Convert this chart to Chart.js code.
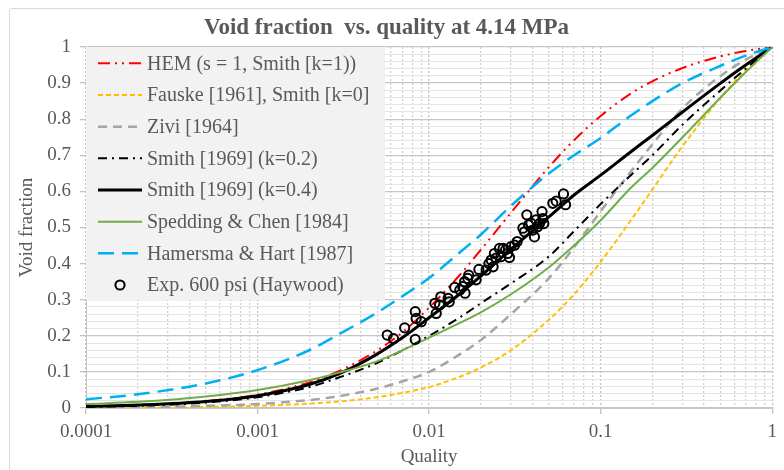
<!DOCTYPE html>
<html>
<head>
<meta charset="utf-8">
<script src="https://cdn.jsdelivr.net/npm/chart.js@4.4.1/dist/chart.umd.min.js"></script>
<style>
  html, body { margin: 0; padding: 0; background: #fff; }
  #wrap { position: relative; width: 784px; height: 470px; overflow: hidden; }
  #frame { position: absolute; left: 9px; top: 8px; width: 800px; height: 480px;
           border: 1px solid #d9d9d9; border-radius: 3px; box-sizing: border-box; }
  canvas { position: absolute; left: 0; top: 0; }
</style>
</head>
<body>
<div id="wrap">
  <div id="frame"></div>
  <canvas id="voidChart" width="784" height="470"></canvas>
</div>
<script>
const quality = [0.0001, 0.0002, 0.0005, 0.001, 0.002, 0.003, 0.005, 0.007, 0.01, 0.015,
  0.02, 0.03, 0.05, 0.07, 0.1, 0.15, 0.2, 0.3, 0.5, 0.7, 1];

const hem      = [0.004, 0.008, 0.019, 0.037, 0.071, 0.103, 0.16, 0.21, 0.278, 0.367,
  0.438, 0.541, 0.668, 0.742, 0.809, 0.871, 0.905, 0.942, 0.974, 0.989, 1];
const fauske   = [0.0006, 0.0012, 0.003, 0.006, 0.012, 0.018, 0.03, 0.042, 0.058, 0.086,
  0.112, 0.16, 0.245, 0.315, 0.405, 0.52, 0.605, 0.725, 0.86, 0.935, 1];
const zivi     = [0.001, 0.002, 0.006, 0.011, 0.022, 0.033, 0.054, 0.074, 0.1, 0.148,
  0.188, 0.26, 0.36, 0.445, 0.545, 0.655, 0.73, 0.83, 0.92, 0.965, 1];
const smith02  = [0.003, 0.006, 0.015, 0.03, 0.058, 0.085, 0.125, 0.16, 0.2, 0.25,
  0.29, 0.345, 0.42, 0.49, 0.565, 0.645, 0.7, 0.785, 0.88, 0.94, 1];
const smith04  = [0.004, 0.008, 0.018, 0.034, 0.065, 0.095, 0.15, 0.195, 0.25, 0.315,
  0.365, 0.44, 0.53, 0.59, 0.645, 0.71, 0.755, 0.82, 0.9, 0.95, 1];
const spedding = [0.011, 0.017, 0.032, 0.05, 0.077, 0.098, 0.13, 0.16, 0.195, 0.235,
  0.265, 0.315, 0.39, 0.45, 0.52, 0.61, 0.665, 0.75, 0.86, 0.93, 1];
const hamersma = [0.024, 0.038, 0.068, 0.105, 0.16, 0.205, 0.265, 0.31, 0.36, 0.43,
  0.48, 0.56, 0.65, 0.7, 0.748, 0.81, 0.85, 0.9, 0.948, 0.976, 1];

// Haywood measurements, 600 psi
const expQuality = [0.0057, 0.0062, 0.0072, 0.0083, 0.0084, 0.0083, 0.009, 0.011, 0.0108, 0.0117,
  0.0115, 0.0129, 0.0131, 0.0141, 0.0151, 0.0157, 0.0161, 0.0162, 0.0168, 0.017,
  0.0188, 0.0195, 0.0215, 0.0223, 0.023, 0.0236, 0.024, 0.0245, 0.0257, 0.0262,
  0.027, 0.0279, 0.0287, 0.0294, 0.03, 0.0315, 0.0326, 0.0352, 0.036, 0.0371,
  0.038, 0.0392, 0.0402, 0.0411, 0.042, 0.0429, 0.044, 0.0455, 0.046, 0.0466,
  0.0526, 0.055, 0.0607, 0.0624];
const expVoid = [0.202, 0.192, 0.222, 0.267, 0.248, 0.19, 0.239, 0.262, 0.29, 0.308,
  0.285, 0.304, 0.294, 0.334, 0.327, 0.336, 0.35, 0.318, 0.359, 0.368,
  0.355, 0.384, 0.382, 0.4, 0.41, 0.391, 0.428, 0.415, 0.442, 0.419,
  0.442, 0.438, 0.428, 0.417, 0.447, 0.451, 0.461, 0.498, 0.488, 0.535,
  0.507, 0.512, 0.493, 0.474, 0.521, 0.502, 0.511, 0.544, 0.525, 0.511,
  0.567, 0.573, 0.593, 0.563];

const xTickLabels = ["0.0001", "0.001", "0.01", "0.1", "1"];
const yTickLabels = ["0", "0.1", "0.2", "0.3", "0.4", "0.5", "0.6", "0.7", "0.8", "0.9", "1"];

const serif = "'Liberation Serif', 'Times New Roman', serif";
const textGray = "#595959";

function curve(label, values, color, width, dash, order) {
  return {
    label: label,
    data: quality.map((q, i) => ({ x: q, y: values[i] })),
    showLine: true,
    borderColor: color,
    backgroundColor: color,
    borderWidth: width,
    borderDash: dash,
    pointRadius: 0,
    cubicInterpolationMode: "monotone",
    order: order
  };
}

// grid positions on the log axis: 1..9 per decade
const xGrid = [];
xTickLabels.forEach((t, d) => {
  const base = Number(t);
  if (d === xTickLabels.length - 1) { xGrid.push(base); return; }
  for (let m = 1; m <= 9; m++) xGrid.push(+(m * base).toPrecision(3));
});
const yGrid = [];
for (let i = 0; i <= 50; i++) yGrid.push(+(i * 0.02).toFixed(2));

const legendBox = {
  id: "legendBox",
  afterDatasetsDraw(chart) {
    const { ctx, chartArea } = chart;
    ctx.save();
    ctx.fillStyle = "#f2f2f2";
    ctx.fillRect(chartArea.left, chartArea.top, 299, 253);
    chart.data.datasets.forEach((ds, i) => {
      const y = chartArea.top + 16.3 + i * 31.67;
      const x0 = chartArea.left + 12;
      if (ds.showLine) {
        ctx.beginPath();
        ctx.setLineDash(ds.borderDash || []);
        ctx.lineWidth = ds.borderWidth;
        ctx.strokeStyle = ds.borderColor;
        ctx.moveTo(x0, y);
        ctx.lineTo(x0 + 44, y);
        ctx.stroke();
      } else {
        ctx.beginPath();
        ctx.setLineDash([]);
        ctx.lineWidth = ds.pointBorderWidth;
        ctx.strokeStyle = ds.borderColor;
        ctx.arc(x0 + 22, y, ds.pointRadius, 0, Math.PI * 2);
        ctx.stroke();
      }
      ctx.fillStyle = textGray;
      ctx.font = "20px " + serif;
      ctx.textBaseline = "middle";
      ctx.fillText(ds.label, x0 + 49, y + 1);
    });
    ctx.restore();
  }
};

new Chart(document.getElementById("voidChart"), {
  type: "scatter",
  data: {
    datasets: [
      curve("HEM (s = 1, Smith [k=1))", hem, "#ff0000", 2, [12, 5, 2, 5, 2, 5], 8),
      curve("Fauske [1961], Smith [k=0]", fauske, "#ffc000", 2, [5, 3], 7),
      curve("Zivi [1964]", zivi, "#a5a5a5", 2.5, [9, 6], 6),
      curve("Smith [1969] (k=0.2)", smith02, "#000000", 2, [9, 5, 2, 5], 5),
      curve("Smith [1969] (k=0.4)", smith04, "#000000", 3, [], 4),
      curve("Spedding & Chen [1984]", spedding, "#70ad47", 2, [], 3),
      curve("Hamersma & Hart [1987]", hamersma, "#00b0f0", 2.5, [16, 8], 2),
      {
        label: "Exp. 600 psi (Haywood)",
        data: expQuality.map((q, i) => ({ x: q, y: expVoid[i] })),
        showLine: false,
        borderColor: "#000000",
        backgroundColor: "rgba(0,0,0,0)",
        pointRadius: 4.6,
        pointBorderWidth: 2,
        order: 1
      }
    ]
  },
  options: {
    responsive: false,
    animation: false,
    layout: { padding: { left: 0, right: 11, top: 0, bottom: 0 } },
    plugins: {
      legend: { display: false },
      tooltip: { enabled: false },
      title: {
        display: true,
        text: "Void fraction  vs. quality at 4.14 MPa",
        color: textGray,
        font: { family: serif, size: 23, weight: "bold" },
        padding: { top: 14, bottom: 5.4 }
      }
    },
    scales: {
      x: {
        type: "logarithmic",
        min: 0.0001,
        max: 1,
        afterBuildTicks: (scale) => { scale.ticks = xGrid.map(v => ({ value: v })); },
        afterFit: (scale) => { scale.height = 62; },
        ticks: {
          autoSkip: false,
          maxRotation: 0,
          padding: 7,
          color: textGray,
          font: { family: serif, size: 19 },
          callback: (v, i) => (i % 9 === 0 ? xTickLabels[i / 9] : "")
        },
        grid: {
          color: (c) => (c.index % 9 === 0 ? "#c2c2c2" : "#d0d0d0"),
          tickColor: (c) => (c.index % 9 === 0 ? "#c2c2c2" : "rgba(0,0,0,0)"),
          tickLength: 6,
          lineWidth: 1.3
        },
        border: { color: "#c8c8c8", width: 1, dash: [2, 2] },
        title: {
          display: true,
          text: "Quality",
          color: textGray,
          font: { family: serif, size: 19 },
          padding: { top: 0, bottom: 2 }
        }
      },
      y: {
        min: 0,
        max: 1,
        afterBuildTicks: (scale) => { scale.ticks = yGrid.map(v => ({ value: v })); },
        afterFit: (scale) => { scale.width = 86; },
        ticks: {
          autoSkip: false,
          padding: 9,
          color: textGray,
          font: { family: serif, size: 19 },
          callback: (v, i) => (i % 5 === 0 ? yTickLabels[i / 5] : "")
        },
        grid: {
          color: (c) => (c.index % 5 === 0 ? "#c6c6c6" : "#e4e4e4"),
          tickColor: (c) => (c.index % 5 === 0 ? "#c2c2c2" : "rgba(0,0,0,0)"),
          tickLength: 6,
          lineWidth: (c) => (c.index % 5 === 0 ? 1.3 : 1)
        },
        border: { color: "#c8c8c8", width: 1 },
        title: {
          display: true,
          text: "Void fraction",
          color: textGray,
          font: { family: serif, size: 19 },
          padding: { top: 16, bottom: 0 }
        }
      }
    }
  },
  plugins: [legendBox]
});
</script>
</body>
</html>
